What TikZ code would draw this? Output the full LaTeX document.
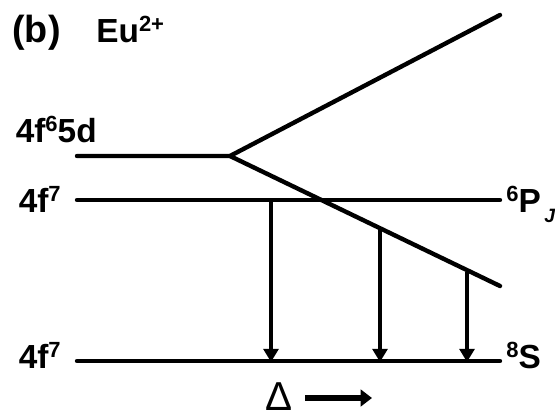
\documentclass[tikz,border=0pt]{standalone}
\usepackage{fontspec}
\setmainfont{Liberation Sans}
\usetikzlibrary{arrows.meta}
\newcommand{\upnum}[1]{\raisebox{0.3em}{\fontsize{12.5}{13}\selectfont #1}}
\tikzset{
  level/.style={line width=2.5pt, line cap=round},
  lbl/.style={inner sep=0pt, font=\fontsize{19}{20}\selectfont\bfseries},
  trans/.style={line width=2.4pt, -{Triangle[length=7.5pt,width=8.5pt]}}
}
\begin{document}
\begin{tikzpicture}[x=0.02cm, y=-0.02cm]
\useasboundingbox (0,0) rectangle (555,419);

\node[lbl, anchor=base west, font=\fontsize{21.5}{22}\selectfont\bfseries] (tag) at (12,42) {(b)};
\node[lbl, anchor=base west] (ion) at (96,42) {Eu\upnum{2+}};

\node[lbl, anchor=base east] (t5d) at (97,142) {4f\upnum{6}5d};
\node[lbl, anchor=base east] (t4f) at (61,212) {4f\upnum{7}};
\node[lbl, anchor=base east] (t4g) at (61,368) {4f\upnum{7}};
\node[lbl, anchor=base west] (tp) at (506,212) {\upnum{6}P\hspace{2pt}\raisebox{-0.3em}{\fontsize{11}{11}\selectfont\itshape J}};
\node[lbl, anchor=base west] (ts) at (506,368) {\upnum{8}S};

\coordinate (a1) at (77,156);
\coordinate (a2) at (230,156);
\coordinate (up) at (500,15);
\coordinate (dn) at (500,286);
\coordinate (p1) at (77,200);
\coordinate (p2) at (500,200);
\coordinate (g1) at (77,361);
\coordinate (g2) at (500,361);

\draw[level] (a1) -- (a2) -- (up);
\draw[level] (a2) -- (dn);
\draw[level] (p1) -- (p2);
\draw[level] (g1) -- (g2);

\coordinate (s1) at (271,200);
\coordinate (s2) at (380,230);
\coordinate (s3) at (467,272);
\coordinate (e1) at (271,362);
\coordinate (e2) at (380,362);
\coordinate (e3) at (467,362);
\draw[trans] (s1) -- (e1);
\draw[trans] (s2) -- (e2);
\draw[trans] (s3) -- (e3);

\node[inner sep=0pt, anchor=base, font=\fontsize{23}{24}\selectfont] (del) at (279,410) {Δ};
\coordinate (d1) at (305,398);
\coordinate (d2) at (372,398);
\draw[line width=3pt, -{Triangle[length=6.5pt,width=9.5pt]}] (d1) -- (d2);
\end{tikzpicture}
\end{document}
